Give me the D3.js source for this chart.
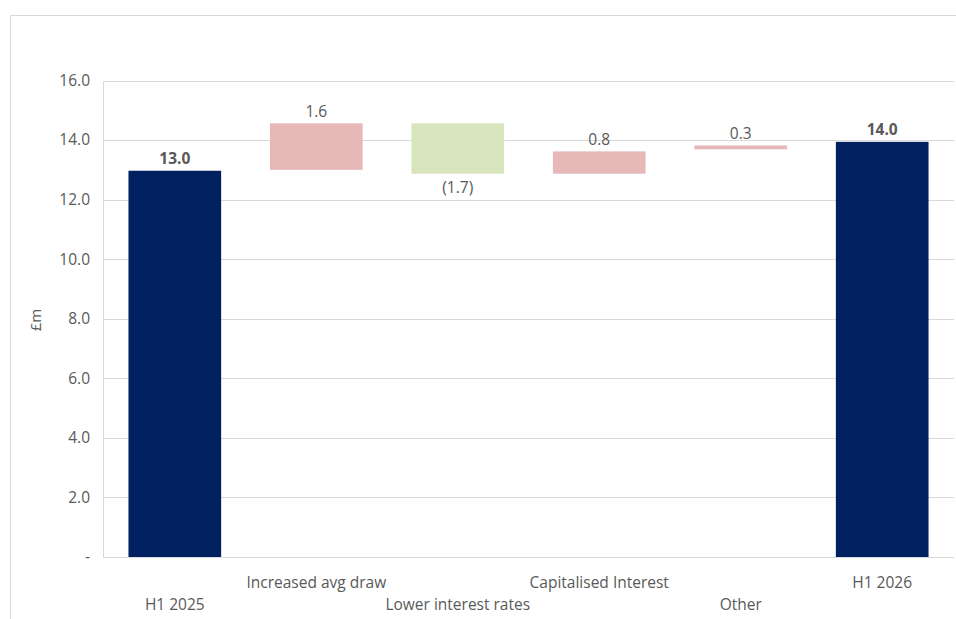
<!DOCTYPE html>
<html>
<head>
<meta charset="utf-8">
<script src="https://cdn.jsdelivr.net/npm/d3@7"></script>
<style>
  body { margin: 0; background: #fff; }
  text { font-family: "Open Sans", "Liberation Sans", sans-serif; fill: #595959; }
</style>
</head>
<body>
<div id="chart"></div>
<script>
const width = 956;
const height = 619;

// data
const categories = ["H1 2025", "Increased avg draw", "Lower interest rates", "Capitalised Interest", "Other", "H1 2026"];
const barLow = [0, 13.0, 12.87, 12.87, 13.69, 0];
const barHigh = [12.97, 14.56, 14.56, 13.62, 13.82, 13.94];
const barLabels = ["13.0", "1.6", "(1.7)", "0.8", "0.3", "14.0"];
const barKind = ["total", "up", "down", "up", "up", "total"];
const yTicks = [0, 2, 4, 6, 8, 10, 12, 14, 16];

const colors = { total: "#002060", up: "#e6b8b7", down: "#d8e4bc" };

const margin = { top: 80, left: 103, right: 2, bottom: 62 };

const svg = d3.select("#chart").append("svg")
    .attr("width", width)
    .attr("height", height);

// outer chart frame (cropped at right and bottom)
svg.append("rect")
  .attr("x", 10.5).attr("y", 15.5)
  .attr("width", 980).attr("height", 640)
  .attr("fill", "none")
  .attr("stroke", "#d9d9d9");

const x = d3.scaleBand()
  .domain(categories)
  .range([margin.left, width - margin.right])
  .paddingInner(0.345)
  .paddingOuter(0.18);

const y = d3.scaleLinear()
  .domain([0, 16])
  .range([557, 80.5]);

// gridlines
svg.append("g")
  .selectAll("line")
  .data(yTicks)
  .enter().append("line")
  .attr("x1", margin.left)
  .attr("x2", width - margin.right)
  .attr("y1", d => Math.round(y(d)) + 0.5)
  .attr("y2", d => Math.round(y(d)) + 0.5)
  .attr("stroke", "#d9d9d9");

svg.append("line")
  .attr("x1", margin.left + 0.5).attr("x2", margin.left + 0.5)
  .attr("y1", Math.round(y(16)) + 0.5).attr("y2", Math.round(y(0)) + 0.5)
  .attr("stroke", "#d9d9d9");

// y tick labels
svg.append("g")
  .selectAll("text")
  .data(yTicks)
  .enter().append("text")
  .attr("x", 90)
  .attr("y", d => y(d))
  .attr("dy", "0.35em")
  .attr("text-anchor", "end")
  .style("font-size", "15.5px")
  .text(d => d === 0 ? "-" : d.toFixed(1));

svg.append("text")
  .attr("transform", "translate(36,320) rotate(-90)")
  .attr("text-anchor", "middle")
  .attr("dy", "0.35em")
  .style("font-size", "15px")
  .text("£m");

// bars
svg.append("g")
  .selectAll("rect")
  .data(categories)
  .enter().append("rect")
  .attr("x", d => x(d))
  .attr("width", x.bandwidth())
  .attr("y", (d, i) => y(barHigh[i]))
  .attr("height", (d, i) => y(barLow[i]) - y(barHigh[i]))
  .attr("fill", (d, i) => colors[barKind[i]]);

// value labels
svg.append("g")
  .selectAll("text")
  .data(categories)
  .enter().append("text")
  .attr("x", d => x(d) + x.bandwidth() / 2)
  .attr("y", (d, i) => barKind[i] === "down" ? y(barLow[i]) + 14 : y(barHigh[i]) - 12)
  .attr("dy", "0.35em")
  .attr("text-anchor", "middle")
  .style("font-size", "15.5px")
  .style("font-weight", (d, i) => barKind[i] === "total" ? "bold" : "normal")
  .text((d, i) => barLabels[i]);

// staggered category labels
svg.append("g")
  .selectAll("text")
  .data(categories)
  .enter().append("text")
  .attr("x", d => x(d) + x.bandwidth() / 2)
  .attr("y", (d, i) => i % 2 === 1 ? 583 : 605)
  .attr("dy", "0.35em")
  .attr("text-anchor", "middle")
  .style("font-size", "15.5px")
  .text(d => d);
</script>
</body>
</html>
